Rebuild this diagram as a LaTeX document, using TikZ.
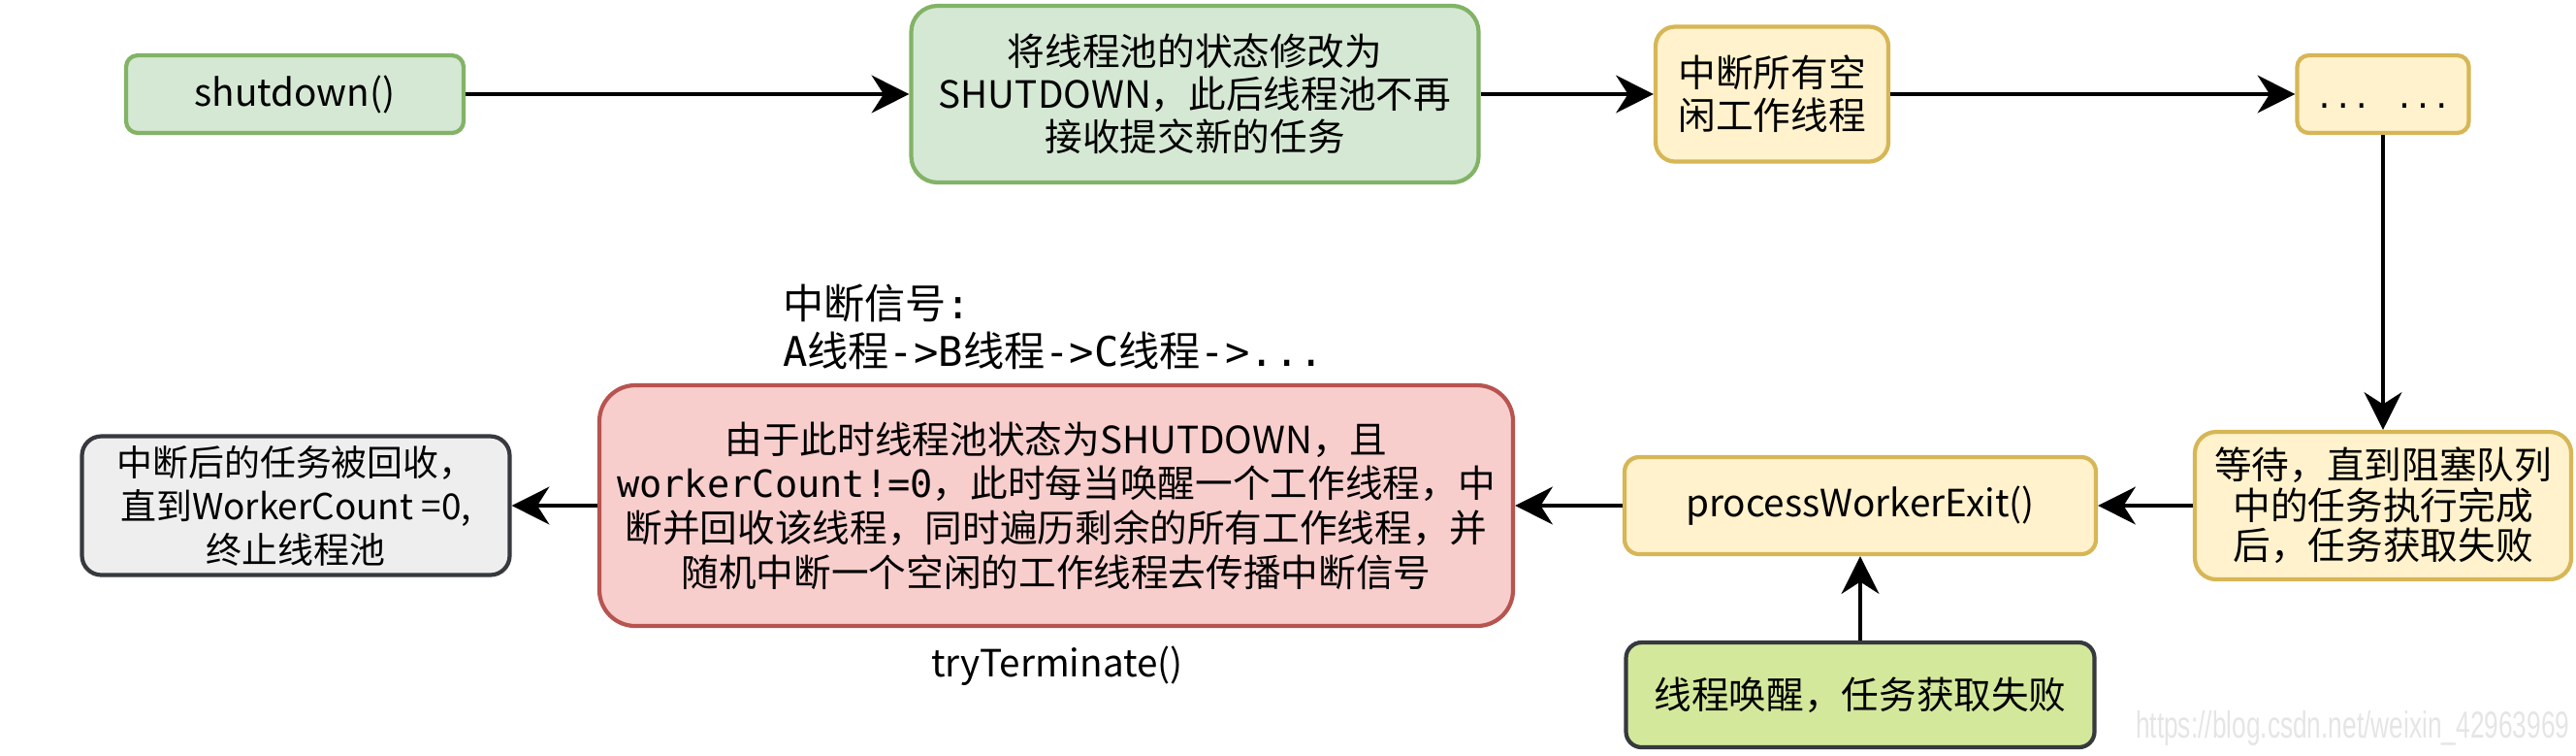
\documentclass[tikz,border=0pt]{standalone}
\usepackage{fontspec}
\setmainfont{Noto Sans CJK SC}
\newfontfamily\codefont{DejaVu Sans Mono}
\newfontfamily\urlfont{Liberation Sans}
\usetikzlibrary{arrows.meta}
\definecolor{greenfill}{HTML}{D5E8D4}\definecolor{greenline}{HTML}{82B366}
\definecolor{yellowfill}{HTML}{FFF2CC}\definecolor{yellowline}{HTML}{D6B656}
\definecolor{redfill}{HTML}{F8CECC}\definecolor{redline}{HTML}{B85450}
\definecolor{grayfill}{HTML}{EEEEEE}\definecolor{darkline}{HTML}{36393D}
\definecolor{limefill}{HTML}{D4E89B}
\tikzset{
  flow/.style={draw,align=center,inner sep=0pt,font=\fontsize{11}{12.5}\selectfont},
  greenbox/.style={flow,fill=greenfill,draw=greenline},
  yellowbox/.style={flow,fill=yellowfill,draw=yellowline},
  redbox/.style={flow,fill=redfill,draw=redline},
  graybox/.style={flow,fill=grayfill,draw=darkline},
  limebox/.style={flow,fill=limefill,draw=darkline},
}

\begin{document}
\begin{tikzpicture}[>={Stealth[length=11pt,width=11pt,inset=3.5pt]},line width=1.2pt]
\useasboundingbox (0,0) rectangle (26.56,-7.78);\clip (0,0) rectangle (26.56,-7.78);
\node[greenbox,minimum width=3.48cm,minimum height=.8cm,rounded corners=.12cm] (sd) at(3.04,-.97){shutdown()};
\node[greenbox,minimum width=5.85cm,minimum height=1.82cm,rounded corners=.27cm] (st) at(12.32,-.97){将线程池的状态修改为\\SHUTDOWN，此后线程池不再\\接收提交新的任务};
\node[yellowbox,minimum width=2.4cm,minimum height=1.39cm,rounded corners=.2cm] (idle) at(18.27,-.97){中断所有空\\闲工作线程};
\node[yellowbox,minimum width=1.77cm,minimum height=.8cm,rounded corners=.12cm] (dots) at(24.57,-.97){{\codefont\fontsize{9}{10}\selectfont ... ...}\vphantom{A}};
\node[yellowbox,minimum width=3.88cm,minimum height=1.52cm,rounded corners=.22cm,font=\fontsize{11}{11.8}\selectfont] (wait) at(24.57,-5.21){等待，直到阻塞队列\\中的任务执行完成\\后，任务获取失败};
\node[yellowbox,minimum width=4.86cm,minimum height=1cm,rounded corners=.15cm] (pwe) at(19.18,-5.21){processWorkerExit()};
\node[limebox,minimum width=4.83cm,minimum height=1.08cm,rounded corners=.16cm] (wake) at(19.18,-7.16){线程唤醒，任务获取失败};
\node[redbox,minimum width=9.42cm,minimum height=2.48cm,rounded corners=.37cm,font=\fontsize{11}{13}\selectfont] (term) at(10.89,-5.21){由于此时线程池状态为SHUTDOWN，且\\{\codefont workerCount!=0}，此时每当唤醒一个工作线程，中\\断并回收该线程，同时遍历剩余的所有工作线程，并\\随机中断一个空闲的工作线程去传播中断信号};
\node[graybox,minimum width=4.41cm,minimum height=1.43cm,rounded corners=.2cm,font=\fontsize{10.5}{12.8}\selectfont] (done) at(3.05,-5.21){中断后的任务被回收，\\直到WorkerCount =0,\\终止线程池};
\node[anchor=west,align=left,inner sep=0pt,font=\fontsize{12}{13.8}\selectfont] (sig) at(8.05,-3.37){中断信号{\codefont :}\\{\codefont A}线程{\codefont ->B}线程{\codefont ->C}线程{\codefont ->...}};
\node[font=\fontsize{11}{12}\selectfont] (tt) at(10.9,-6.86){tryTerminate()};
\node[anchor=west,inner sep=0pt,text=black!10,font=\urlfont\fontsize{11}{11}\selectfont] (wm) at(22,-7.5){\scalebox{.68}[1]{https://blog.csdn.net/weixin\_42963969}};
\draw[->] (sd)--(st);\draw[->] (st)--(idle);\draw[->] (idle)--(dots);
\draw[->] (dots)--(wait);\draw[->] (wait)--(pwe);\draw[->] (wake)--(pwe);
\draw[->] (pwe)--(term);\draw[->] (term)--(done);
\end{tikzpicture}
\end{document}
